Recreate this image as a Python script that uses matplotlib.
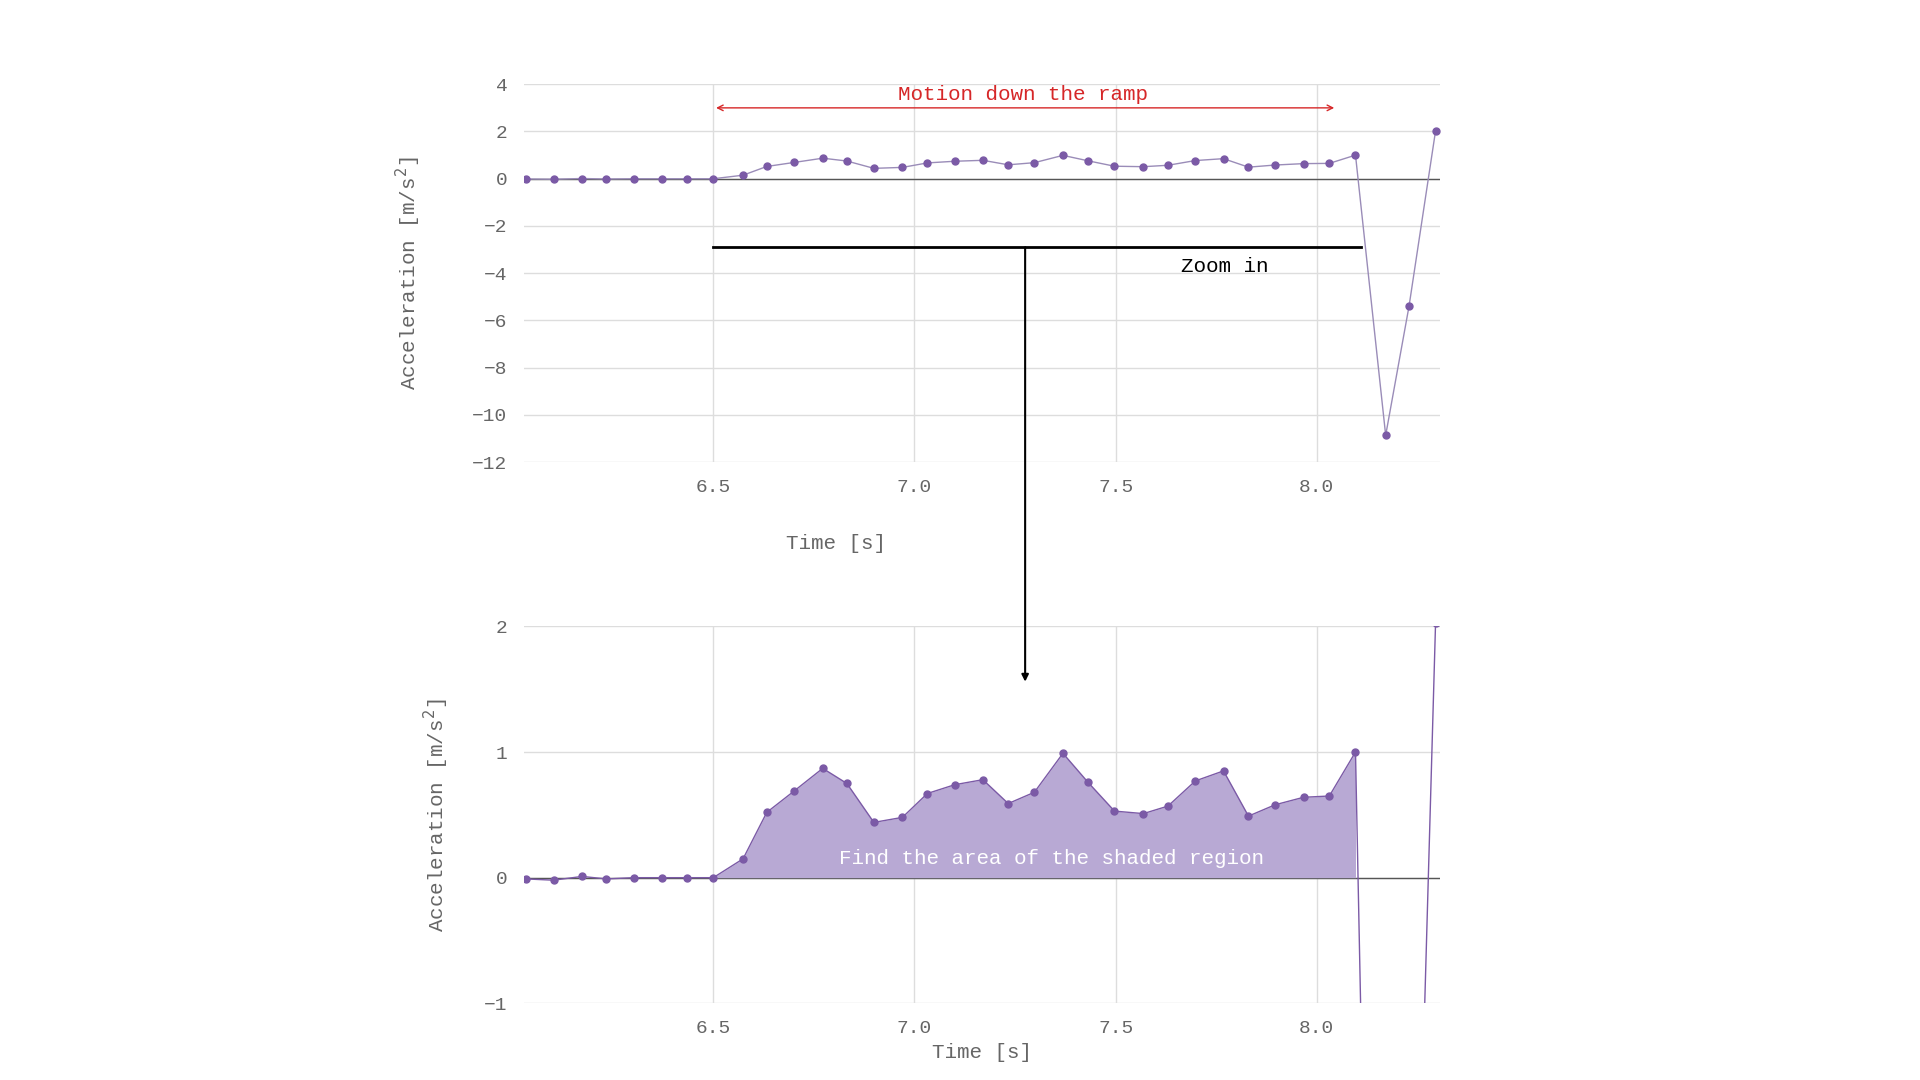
import matplotlib
matplotlib.use("Agg")
import matplotlib.pyplot as plt
import numpy as np

time_s = [6.035, 6.103, 6.174, 6.234, 6.302, 6.372, 6.434, 6.5, 6.574, 6.633, 6.701, 6.772,
          6.832, 6.899, 6.970, 7.032, 7.100, 7.170, 7.233, 7.298, 7.369, 7.431, 7.497, 7.569,
          7.630, 7.698, 7.768, 7.830, 7.896, 7.967, 8.031, 8.096, 8.171, 8.229, 8.295]
accel = [-0.01, -0.02, 0.01, -0.01, 0.0, 0.0, 0.0, 0.0, 0.15, 0.52, 0.69, 0.87,
         0.75, 0.44, 0.48, 0.67, 0.74, 0.78, 0.59, 0.68, 0.99, 0.76, 0.53, 0.51,
         0.57, 0.77, 0.85, 0.49, 0.58, 0.64, 0.65, 1.0, -10.86, -5.4, 2.03]
top_yticks = [4, 2, 0, -2, -4, -6, -8, -10, -12]
bottom_yticks = [2, 1, 0, -1]
xticks = [6.5, 7.0, 7.5, 8.0]

t = np.array(time_s); a = np.array(accel)
FONT = "Liberation Mono"
plt.rcParams['font.family'] = [FONT, 'DejaVu Sans']
GREY = "#666666"
LINE = "#7b5aa6"
FILL = "#b8a9d4"

fig = plt.figure(figsize=(19.2, 10.8), dpi=100)
ax1 = fig.add_axes([0.273, 0.572, 0.477, 0.35])
ax2 = fig.add_axes([0.273, 0.071, 0.477, 0.349])

def style(ax, yt, ylim):
    ax.set_xlim(6.03, 8.306)
    ax.set_ylim(*ylim)
    ax.set_xticks(xticks)
    ax.set_xticklabels([f"{v:.1f}" for v in xticks])
    ax.set_yticks(yt)
    ax.set_yticklabels([str(v).replace('-', '−') for v in yt])
    for s in ax.spines.values():
        s.set_visible(False)
    ax.grid(True, color="#dddddd", lw=1)
    ax.set_axisbelow(True)
    ax.tick_params(length=0, labelsize=14, colors=GREY, pad=12)
    ax.axhline(0, color="#555555", lw=1, zorder=1)

style(ax1, top_yticks, (-12, 4))
ax1.plot(t, a, color="#9a8cb8", lw=1, marker="o", ms=5, mfc=LINE, mec=LINE, zorder=3)
ax1.set_xlabel("Time [s]", fontsize=15, color=GREY)
ax1.xaxis.set_label_coords(0.34, -0.19)
ax1.set_ylabel("Acceleration [m/s$^2$]", fontsize=15, color=GREY)
ax1.yaxis.set_label_coords(-0.11, 0.5)
ax1.annotate("", xy=(6.5, 3.0), xytext=(8.05, 3.0),
             arrowprops=dict(arrowstyle="<->", color="#d62728", lw=1))
ax1.text(7.27, 3.55, "Motion down the ramp", color="#d62728", fontsize=15, ha="center", va="center")
ax1.plot([6.5, 8.11], [-2.9, -2.9], color="black", lw=2)
ax1.text(7.77, -3.7, "Zoom in", color="black", fontsize=15, ha="center", va="center")

style(ax2, bottom_yticks, (-1, 2))
m = (t >= 6.5) & (t <= 8.1)
ax2.fill_between(t[m], 0, a[m], color=FILL, lw=0, zorder=2)
ax2.plot(t, a, color=LINE, lw=1, zorder=3)
ax2.plot(t, a, ls="none", marker="o", ms=5, color=LINE, zorder=4)
ax2.set_xlabel("Time [s]", fontsize=15, color=GREY, labelpad=4)
ax2.set_ylabel("Acceleration [m/s$^2$]", fontsize=15, color=GREY)
ax2.yaxis.set_label_coords(-0.08, 0.5)
ax2.text(7.34, 0.15, "Find the area of the shaded region", color="white", fontsize=15, ha="center", va="center", zorder=5)

ax2.annotate("", xy=(7.275, 1.56), xycoords=ax2.transData,
             xytext=(7.275, -2.9), textcoords=ax1.transData,
             arrowprops=dict(arrowstyle="-|>", color="black", lw=1.5, shrinkA=0, shrinkB=0),
             annotation_clip=False)

fig.savefig("out.png", dpi=100)
